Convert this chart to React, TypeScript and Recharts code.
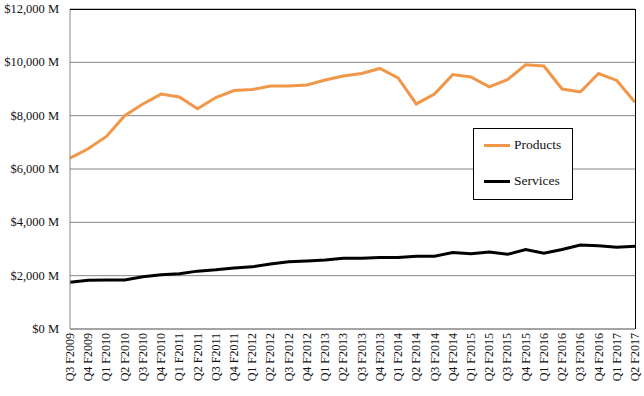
import { LineChart, Line, XAxis, YAxis, CartesianGrid } from "recharts";

const quarters = [
  "Q3 F2009", "Q4 F2009",
  "Q1 F2010", "Q2 F2010", "Q3 F2010", "Q4 F2010",
  "Q1 F2011", "Q2 F2011", "Q3 F2011", "Q4 F2011",
  "Q1 F2012", "Q2 F2012", "Q3 F2012", "Q4 F2012",
  "Q1 F2013", "Q2 F2013", "Q3 F2013", "Q4 F2013",
  "Q1 F2014", "Q2 F2014", "Q3 F2014", "Q4 F2014",
  "Q1 F2015", "Q2 F2015", "Q3 F2015", "Q4 F2015",
  "Q1 F2016", "Q2 F2016", "Q3 F2016", "Q4 F2016",
  "Q1 F2017", "Q2 F2017",
];

const products = [
  6410, 6760, 7220, 8000, 8440, 8810, 8700, 8260,
  8680, 8940, 8980, 9110, 9110, 9150, 9340, 9490,
  9580, 9770, 9420, 8440, 8810, 9540, 9450, 9080,
  9350, 9910, 9860, 9000, 8890, 9580, 9320, 8500,
];

const services = [
  1750, 1830, 1840, 1840, 1960, 2030, 2070, 2170,
  2220, 2290, 2330, 2440, 2520, 2550, 2590, 2650,
  2650, 2680, 2680, 2730, 2730, 2870, 2820, 2890,
  2800, 2980, 2840, 2980, 3150, 3120, 3070, 3100,
];

const yTicks = [0, 2000, 4000, 6000, 8000, 10000, 12000];

const seriesNames = ["Products", "Services"];

const data = quarters.map((q, i) => ({
  quarter: q,
  Products: products[i],
  Services: services[i],
}));

const FONT = '"Liberation Serif", "Times New Roman", serif';
const ORANGE = "#F0974A";
const colorsBySeries: Record<string, string> = { Products: ORANGE, Services: "#000" };

// rotated quarter labels, hanging just under the axis
function XTick({ x, y, payload }: any) {
  const ty = y - 4;
  return (
    <text
      x={x}
      y={ty}
      transform={`rotate(-90, ${x}, ${ty})`}
      textAnchor="end"
      dominantBaseline="central"
      fontFamily={FONT}
      fontSize={12}
      fill="#111"
    >
      {payload.value}
    </text>
  );
}

function YTick({ x, y, payload }: any) {
  return (
    <text
      x={x}
      y={y}
      textAnchor="end"
      dominantBaseline="central"
      fontFamily={FONT}
      fontSize={12.5}
      fill="#111"
    >
      {`$${payload.value.toLocaleString("en-US")} M`}
    </text>
  );
}

function LegendBox() {
  return (
    <div
      style={{
        position: "absolute",
        left: 473,
        top: 128,
        width: 100,
        height: 72,
        border: "1px solid #000",
        background: "#fff",
        fontFamily: FONT,
        fontSize: 13.5,
        color: "#111",
        boxSizing: "border-box",
        paddingTop: 7,
      }}
    >
      {seriesNames.map((name) => (
        <div
          key={name}
          style={{ display: "flex", alignItems: "center", height: 18, marginBottom: 18 }}
        >
          <span
            style={{
              display: "inline-block",
              width: 26,
              height: 3,
              background: colorsBySeries[name],
              marginLeft: 10,
              marginRight: 4,
            }}
          />
          {name}
        </div>
      ))}
    </div>
  );
}

export default function App() {
  return (
    <div style={{ position: "absolute", left: 0, top: 0, width: 644, height: 396, background: "#fff" }}>
      <LineChart
        width={644}
        height={396}
        data={data}
        margin={{ top: 9, right: 9, left: 0, bottom: 5 }}
      >
        <CartesianGrid vertical={false} stroke="#868686" />
        <XAxis
          dataKey="quarter"
          interval={0}
          height={62}
          tick={<XTick />}
          tickLine={false}
          axisLine={{ stroke: "#868686" }}
        />
        <YAxis
          width={70}
          domain={[0, 12000]}
          ticks={yTicks}
          tick={<YTick />}
          tickLine={false}
          tickSize={6}
          tickMargin={5}
          axisLine={{ stroke: "#868686" }}
        />
        {seriesNames.map((name) => (
          <Line
            key={name}
            type="linear"
            dataKey={name}
            stroke={colorsBySeries[name]}
            strokeWidth={3}
            dot={false}
            isAnimationActive={false}
          />
        ))}
      </LineChart>
      <div
        style={{
          position: "absolute",
          left: 70,
          top: 9,
          width: 566,
          height: 320,
          borderTop: "1px solid #000",
          borderRight: "1px solid #000",
          boxSizing: "border-box",
          pointerEvents: "none",
        }}
      />
      <LegendBox />
    </div>
  );
}
